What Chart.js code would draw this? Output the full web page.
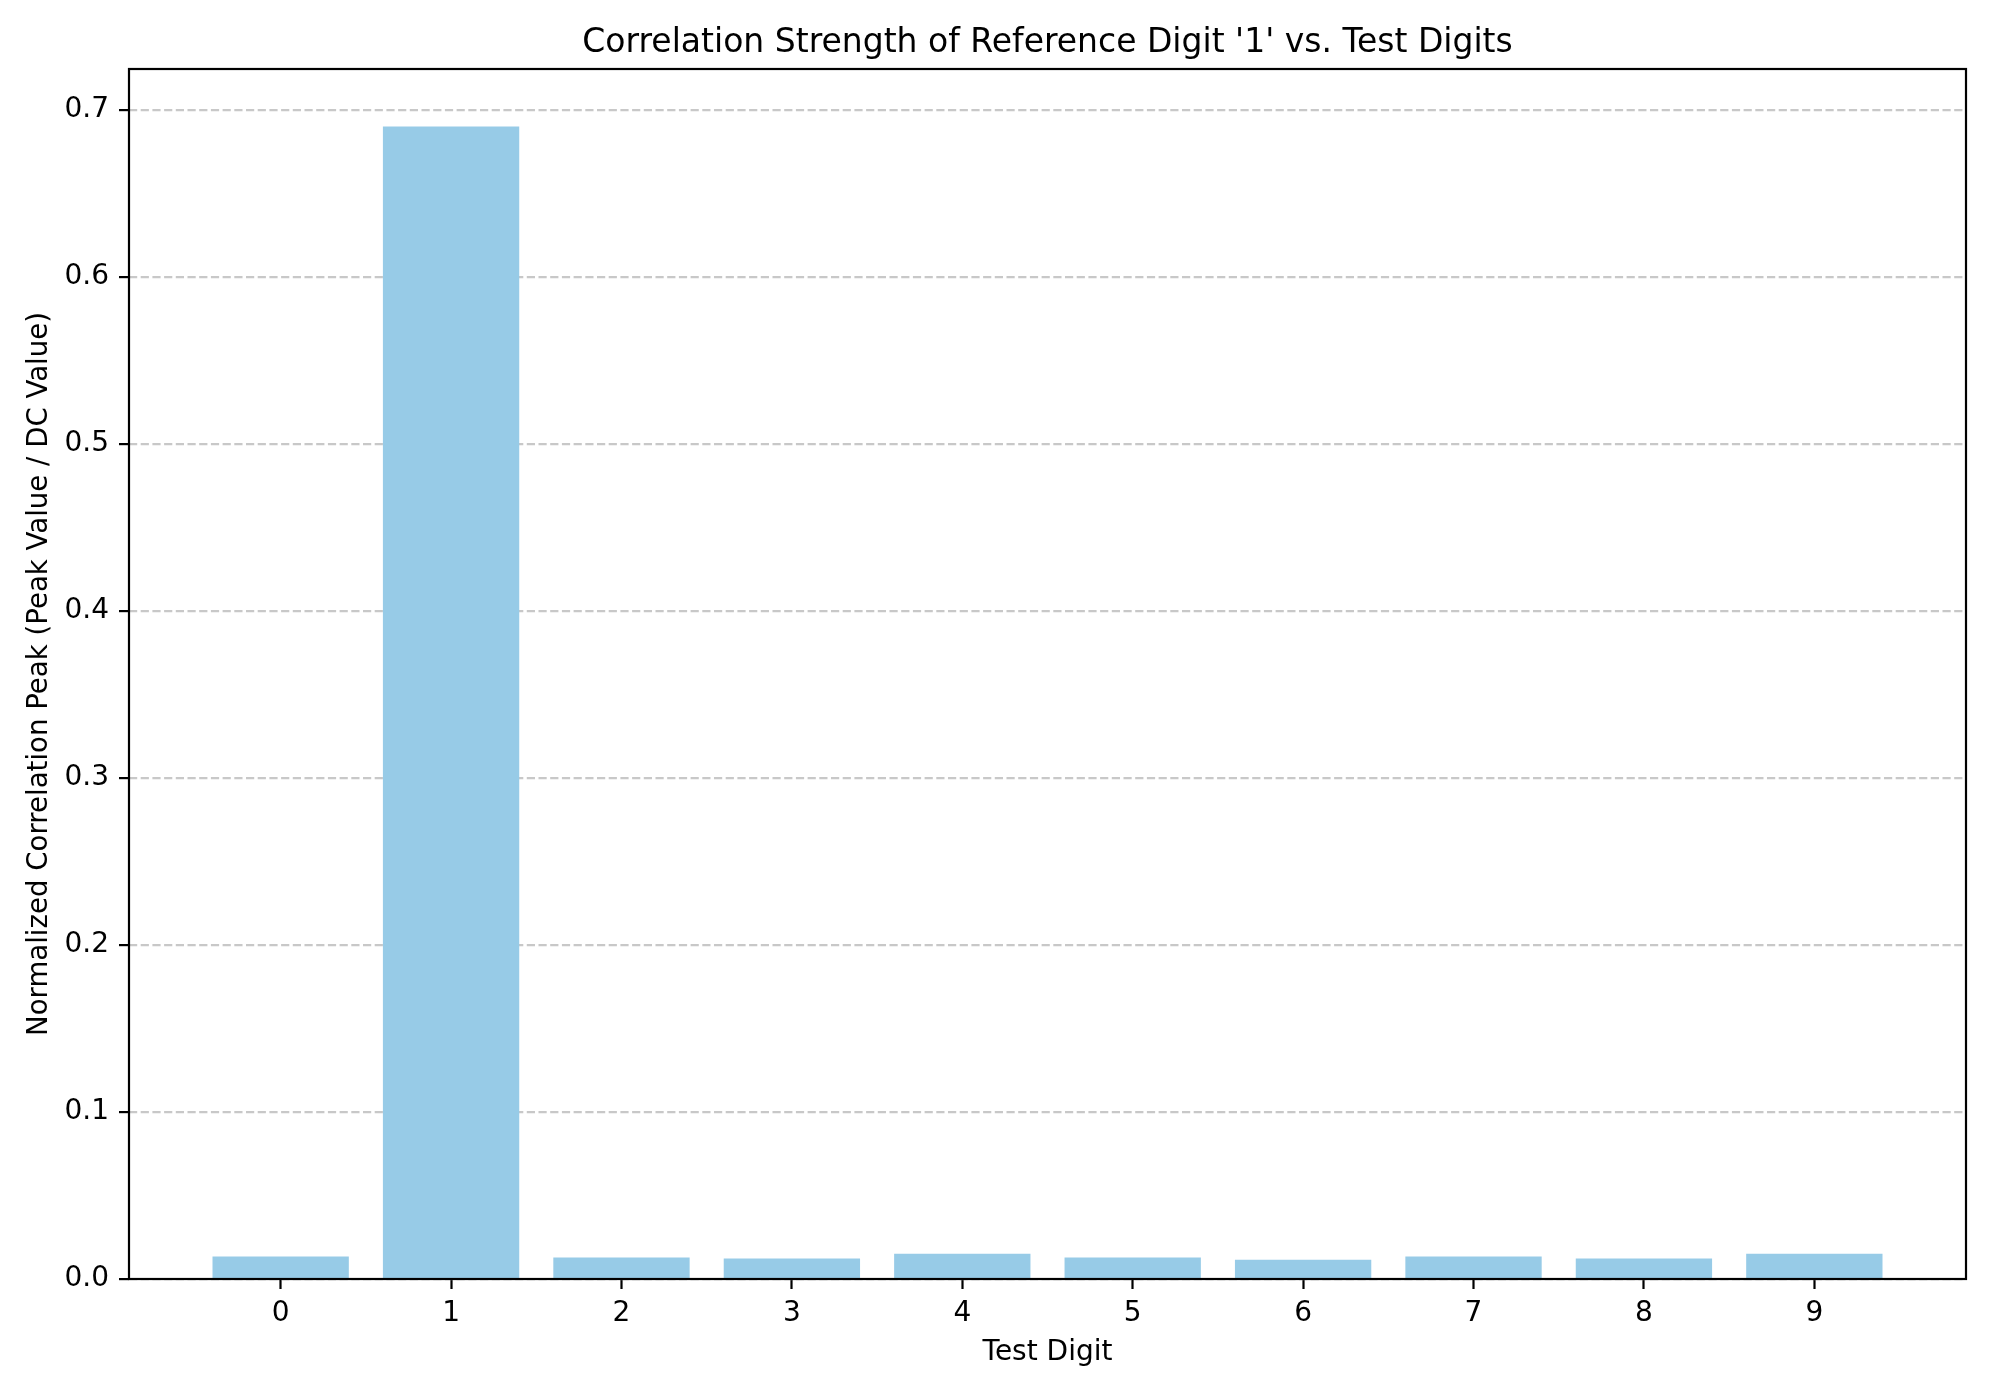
<!DOCTYPE html>
<html>
<head>
<meta charset="utf-8">
<script src="https://cdn.jsdelivr.net/npm/chart.js@4.4.1/dist/chart.umd.min.js"></script>
<style>
  html, body { margin: 0; padding: 0; background: #fff; }
  #wrap { width: 1990px; height: 1396px; }
</style>
</head>
<body>
<div id="wrap"><canvas id="corrChart"></canvas></div>
<script>
// values
const digits = ["0", "1", "2", "3", "4", "5", "6", "7", "8", "9"];
const peakRatios = [0.0134, 0.690, 0.0128, 0.0122, 0.0151, 0.0128, 0.0116, 0.0134, 0.0122, 0.0151];
const yTickStep = 0.1;

const chartTitle = "Correlation Strength of Reference Digit '1' vs. Test Digits";
const xTitle = "Test Digit";
const yTitle = "Normalized Correlation Peak (Peak Value / DC Value)";

const font = "DejaVu Sans";
const lw = 2.2; // 0.8pt at 200 dpi

// matplotlib-like limits: 5% margins around the bars
const xMin = -0.4 - 0.05 * 9.8;
const xMax = 9.4 + 0.05 * 9.8;
const yMax = Math.max(...peakRatios) * 1.05;

// axes frame drawn on top of the bars, like matplotlib spines
const framePlugin = {
  id: "frame",
  afterDatasetsDraw(chart) {
    const { ctx, chartArea: a } = chart;
    ctx.save();
    ctx.strokeStyle = "#000";
    ctx.lineWidth = lw;
    ctx.strokeRect(a.left, a.top, a.right - a.left, a.bottom - a.top);
    ctx.restore();
  }
};

const ctx = document.getElementById("corrChart").getContext("2d");

new Chart(ctx, {
  type: "bar",
  data: {
    datasets: [{
      data: peakRatios.map((v, i) => ({ x: i, y: v })),
      backgroundColor: "#97cbe7",
      borderWidth: 0,
      barPercentage: 0.8,
      categoryPercentage: 1.0
    }]
  },
  plugins: [framePlugin],
  options: {
    responsive: true,
    maintainAspectRatio: false,
    devicePixelRatio: 1,
    animation: false,
    layout: { padding: { left: 0, right: 24, top: 0, bottom: 0 } },
    plugins: {
      legend: { display: false },
      tooltip: { enabled: false },
      title: {
        display: true,
        fullSize: false, // centre over the plot area, not the canvas
        text: chartTitle,
        color: "#000",
        font: { family: font, size: 33, weight: "normal" },
        padding: { top: 23.5, bottom: 5.9 }
      }
    },
    scales: {
      x: {
        type: "linear",
        min: xMin,
        max: xMax,
        offset: false,
        afterFit(scale) { scale.height = 117; },
        grid: {
          offset: false,
          drawOnChartArea: false,
          drawTicks: true,
          tickLength: 10,
          tickColor: "#000",
          tickWidth: lw
        },
        border: { display: false },
        ticks: {
          stepSize: 1,
          includeBounds: false,
          autoSkip: false,
          maxRotation: 0,
          padding: 8,
          color: "#000",
          font: { family: font, size: 28 },
          callback: (v) => digits[v]
        },
        title: {
          display: true,
          text: xTitle,
          color: "#000",
          font: { family: font, size: 28 },
          padding: { top: 0, bottom: 26.5 }
        }
      },
      y: {
        min: 0,
        max: yMax,
        afterFit(scale) { scale.width = 129; },
        grid: {
          color: "rgba(176,176,176,0.7)",
          lineWidth: lw,
          drawTicks: true,
          tickLength: 10,
          tickColor: "#000",
          tickWidth: lw,
          tickBorderDash: []
        },
        border: { display: false, dash: [8.2, 3.5] },
        ticks: {
          stepSize: yTickStep,
          includeBounds: false,
          padding: 10,
          color: "#000",
          font: { family: font, size: 28 },
          callback: (v) => v.toFixed(1)
        },
        title: {
          display: true,
          text: yTitle,
          color: "#000",
          font: { family: font, size: 27.6 },
          padding: { top: 23.7, bottom: 0 }
        }
      }
    }
  }
});
</script>
</body>
</html>
